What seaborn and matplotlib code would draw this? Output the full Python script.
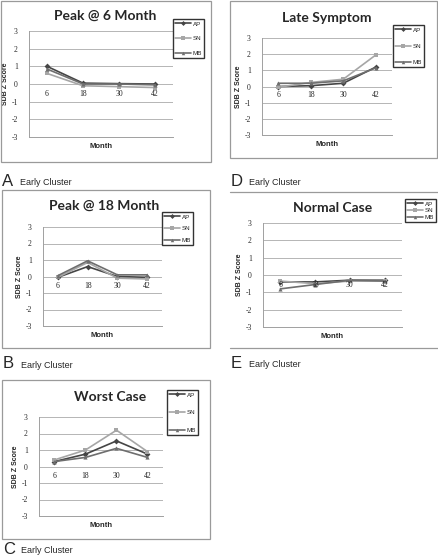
import numpy as np
import pandas as pd
import seaborn as sns
import matplotlib.pyplot as plt
from matplotlib.patches import Rectangle
from matplotlib.lines import Line2D

# data
months = [6, 18, 30, 42]
series_names = ["AP", "SN", "MB"]

peak6_ap = [1.0, 0.05, 0.02, 0.0]
peak6_sn = [0.6, -0.1, -0.15, -0.2]
peak6_mb = [0.85, 0.0, 0.0, -0.05]

late_ap = [0.0, 0.05, 0.2, 1.2]
late_sn = [-0.05, 0.25, 0.45, 1.95]
late_mb = [0.2, 0.2, 0.35, 1.15]

peak18_ap = [-0.05, 0.6, 0.0, -0.05]
peak18_sn = [-0.05, 0.85, -0.1, -0.15]
peak18_mb = [0.05, 0.95, 0.1, 0.1]

normal_ap = [-0.4, -0.4, -0.3, -0.3]
normal_sn = [-0.35, -0.5, -0.35, -0.35]
normal_mb = [-0.8, -0.55, -0.3, -0.35]

worst_ap = [0.3, 0.75, 1.55, 0.75]
worst_sn = [0.4, 1.0, 2.2, 0.9]
worst_mb = [0.3, 0.55, 1.1, 0.55]

yticks = [3, 2, 1, 0, -1, -2, -3]

W, H = 439, 557
sns.set_style("white")
plt.rcParams['font.family'] = ['Liberation Sans', 'DejaVu Sans']
fig = plt.figure(figsize=(W / 100, H / 100), dpi=100)

palette = {"AP": "#454545", "SN": "#a6a6a6", "MB": "#6e6e6e"}
markers = {"AP": "D", "SN": "s", "MB": "^"}
frame_col = "#9a9a9a"


def rect(x0, y0, x1, y1):
    return [x0 / W, 1 - y1 / H, (x1 - x0) / W, (y1 - y0) / H]


def panel(title, letter, ap, sn, mb, box, plot, tpos, leg, cap_y, full_box=True):
    # outer frame
    bx0, by0, bx1, by1 = box
    if full_box:
        fig.patches.append(Rectangle((bx0 / W, 1 - by1 / H), (bx1 - bx0) / W, (by1 - by0) / H,
                                     transform=fig.transFigure, fill=False,
                                     edgecolor=frame_col, lw=0.9))
    else:
        for yy in (by0, by1):
            fig.lines.append(Line2D([bx0 / W, bx1 / W], [1 - yy / H, 1 - yy / H],
                                    transform=fig.transFigure, color=frame_col, lw=0.9))
    ax = fig.add_axes(rect(*plot))
    df = pd.DataFrame({
        "idx": list(range(len(months))) * 3,
        "z": ap + sn + mb,
        "series": [s for s in series_names for _ in months],
    })
    sns.lineplot(data=df, x="idx", y="z", hue="series", style="series",
                 markers=markers, dashes=False, palette=palette,
                 linewidth=1.2, markersize=3, markeredgewidth=0, ax=ax)
    ax.set_xlim(-0.5, len(months) - 0.5)
    ax.set_ylim(-3, 3)
    ax.set_yticks(yticks)
    ax.set_yticklabels([str(t) for t in yticks], family="Liberation Serif", fontsize=5.5)
    ax.tick_params(axis="y", length=0, pad=8)
    ax.set_xticks([])
    ax.grid(axis="y", color="#b5b5b5", lw=0.7)
    ax.set_axisbelow(True)
    for s in ["top", "right"]:
        ax.spines[s].set_visible(False)
    for s in ["left", "bottom"]:
        ax.spines[s].set_color("#a0a0a0")
        ax.spines[s].set_linewidth(0.7)
    for i, m in enumerate(months):
        ax.text(i, -0.55, str(m), ha="center", va="center",
                family="Liberation Serif", fontsize=5.5, color="#222222")
    ax.set_xlabel("Month", fontsize=5.5, fontweight="bold", labelpad=4)
    ax.set_ylabel("SDB Z Score", fontsize=5, fontweight="bold", labelpad=2)
    fig.text(tpos[0] / W, 1 - tpos[1] / H, title, ha="center", va="center",
             family="Lato", fontweight="bold", fontsize=10)
    handles, labels = ax.get_legend_handles_labels()
    ax.get_legend().remove()
    for h in handles:
        h.set_markersize(2.5)
    lx0, ly0, lx1, ly1 = leg
    lg = fig.legend(handles, labels, loc="upper left",
                    bbox_to_anchor=(lx0 / W, 1 - ly0 / H), bbox_transform=fig.transFigure,
                    fontsize=4.5, frameon=True, fancybox=False, handlelength=2.6,
                    handletextpad=0.2, borderpad=0.35,
                    labelspacing=max((ly1 - ly0 - 23.4) / 12.5, 0.05), borderaxespad=0)
    lg.get_frame().set_edgecolor("black")
    lg.get_frame().set_linewidth(1.0)
    fig.text((bx0 + 1) / W, 1 - cap_y / H, letter, ha="left", va="center", fontsize=12)
    fig.text((bx0 + 19) / W, 1 - (cap_y + 1.5) / H, "Early Cluster", ha="left",
             va="center", fontsize=6.5)
    return ax


panel("Peak @ 6 Month", "A", peak6_ap, peak6_sn, peak6_mb,
      (1, 1, 211, 162), (29, 31, 173, 137), (105, 16), (173, 19, 209, 61), 181)
panel("Late Symptom", "D", late_ap, late_sn, late_mb,
      (230, 1, 437, 158), (262, 38, 392, 135), (327, 18), (393, 25, 428, 70), 181)
panel("Peak @ 18 Month", "B", peak18_ap, peak18_sn, peak18_mb,
      (2, 190, 210, 348), (43, 227, 162, 326), (104, 206), (162, 212, 203, 248), 364)
panel("Normal Case", "E", normal_ap, normal_sn, normal_mb,
      (230, 192, 439, 348), (263, 223, 402, 327), (333, 208), (405, 199, 439, 225), 363,
      full_box=False)
panel("Worst Case", "C", worst_ap, worst_sn, worst_mb,
      (2, 380, 210, 539), (39, 417, 163, 516), (110, 397), (167, 390, 202, 438), 549)

fig.savefig("out.png", dpi=100)
